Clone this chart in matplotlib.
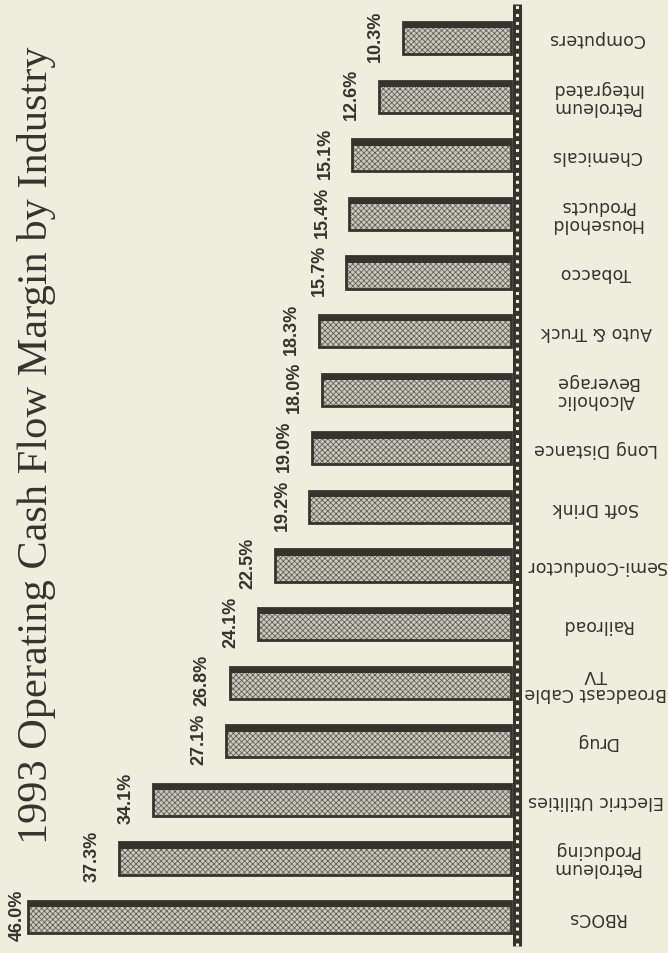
import matplotlib
matplotlib.use('Agg')
import matplotlib.pyplot as plt
from matplotlib import font_manager

# ---------------- data ----------------
categories = ["RBOCs", "Petroleum\nProducing", "Electric Utilities", "Drug",
              "Broadcast Cable\nTV", "Railroad", "Semi-Conductor", "Soft Drink",
              "Long Distance", "Alcoholic\nBeverage", "Auto & Truck", "Tobacco",
              "Household\nProducts", "Chemicals", "Petroleum\nIntegrated", "Computers"]
margins = [46.0, 37.3, 34.1, 27.1, 26.8, 24.1, 22.5, 19.2,
           19.0, 18.0, 18.3, 15.7, 15.4, 15.1, 12.6, 10.3]
value_labels = [f"{v:.1f}%" for v in margins]
title = "1993 Operating Cash Flow Margin by Industry"

# ---------------- style ----------------
available = {f.name for f in font_manager.fontManager.ttflist}
narrow = 'Liberation Sans Narrow' if 'Liberation Sans Narrow' in available else 'Liberation Sans'

BG = '#eeeedf'
DARK = '#34342e'
FILL = '#c8c8bc'
HATCH = '#5c5c54'
plt.rcParams['hatch.linewidth'] = 0.55

fig = plt.figure(figsize=(6.68, 9.54), dpi=100, facecolor=BG)
ax = fig.add_axes([0, 0, 1, 1])
ax.set_facecolor(BG)
n = len(categories)
ys = list(range(n))
ax.set_xlim(48.67, -14.95)
ax.set_ylim(-0.614, 15.666)
ax.axis('off')

bar_h = 0.55
ax.barh(ys, margins, height=bar_h, left=0, color=FILL, edgecolor=HATCH,
        linewidth=0, hatch='xxxxxx', zorder=2)
ax.barh(ys, margins, height=bar_h, left=0, fill=False, edgecolor=DARK,
        linewidth=2.0, zorder=3)
band = 0.11
ax.barh([y + bar_h / 2 - band / 2 for y in ys], margins, height=band, left=0,
        color=DARK, linewidth=0, zorder=4)

# axis line (ladder style)
ax.vlines(-0.55, -0.5, n - 1 + 0.58, color=DARK, lw=6.5, zorder=5)
ax.vlines(-0.55, -0.5, n - 1 + 0.58, color=BG, lw=2.2,
          linestyles=(0, (1, 1.6)), zorder=6)

# value labels (just beyond each bar end, kept inside the frame)
for y, v, lab in zip(ys, margins, value_labels):
    lx = min(v + 2.6, 47.0)
    ax.text(lx, y + 0.05, lab, rotation=90, ha='center', va='center',
            fontsize=13, fontweight='bold', family=narrow, color=DARK, zorder=7)

# category labels (upside down)
for y, cat in zip(ys, categories):
    ax.text(-8.1, y, cat, rotation=180, ha='center', va='center',
            fontsize=12.5, family='DejaVu Sans', color=DARK, linespacing=1.0,
            zorder=7)

fig.text(37 / 668, 1 - 445 / 954, title, rotation=90, ha='center', va='center',
         family='Liberation Serif', fontsize=30.5, color=DARK)

fig.savefig('out.png', dpi=100, facecolor=BG)
